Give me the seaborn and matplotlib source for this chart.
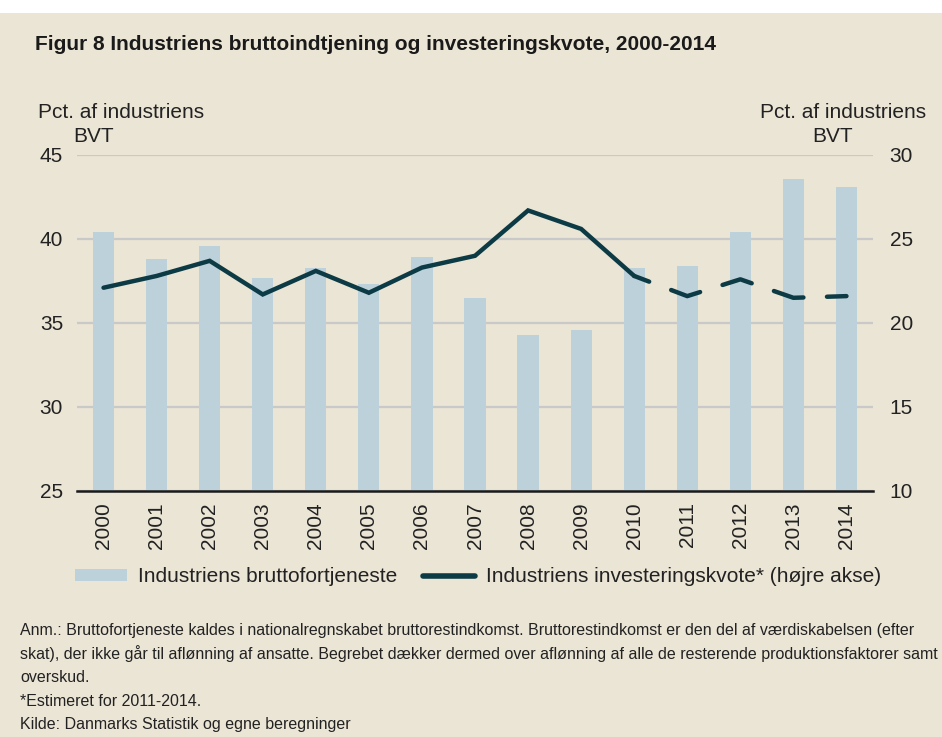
import matplotlib
matplotlib.use('Agg')
import matplotlib.pyplot as plt
from matplotlib.patches import Patch, Rectangle
from matplotlib.lines import Line2D
import numpy as np
import pandas as pd
import seaborn as sns

BG = '#EBE5D5'
BAR = '#BDD1DB'
LINE = '#0D3B45'
TXT = '#222222'

years = [2000, 2001, 2002, 2003, 2004, 2005, 2006, 2007, 2008, 2009, 2010, 2011, 2012, 2013, 2014]
profit = [40.4, 38.8, 39.6, 37.7, 38.3, 37.3, 38.9, 36.5, 34.3, 34.6, 38.3, 38.4, 40.4, 43.6, 43.1]
invest = [22.1, 22.8, 23.7, 21.7, 23.1, 21.8, 23.3, 24.0, 26.7, 25.6, 22.8, 21.6, 22.6, 21.5, 21.6]
estimate_from = 2010  # line is dashed from here on

title = 'Figur 8 Industriens bruttoindtjening og investeringskvote, 2000-2014'
notes = [
    'Anm.: Bruttofortjeneste kaldes i nationalregnskabet bruttorestindkomst. Bruttorestindkomst er den del af værdiskabelsen (efter',
    'skat), der ikke går til aflønning af ansatte. Begrebet dækker dermed over aflønning af alle de resterende produktionsfaktorer samt',
    'overskud.',
    '*Estimeret for 2011-2014.',
    'Kilde: Danmarks Statistik og egne beregninger',
]

sns.set_theme(style='white')
plt.rcParams['font.family'] = ['Liberation Sans', 'DejaVu Sans']
FS = 15

df = pd.DataFrame({'year': [str(y) for y in years], 'profit': profit, 'invest': invest})
df['pos'] = np.arange(len(df))

W, H = 942, 737
fig = plt.figure(figsize=(W / 100, H / 100), dpi=100, facecolor=BG)
fig.add_artist(Rectangle((0, 1 - 13 / H), 1, 13 / H, transform=fig.transFigure,
                         facecolor='white', edgecolor='none', zorder=0))

ax = fig.add_axes([77 / W, 1 - 491 / H, (873 - 77) / W, (491 - 155) / H])
ax.set_facecolor(BG)
sns.barplot(data=df, x='year', y='profit', color=BAR, saturation=1, width=0.4,
            linewidth=0, ax=ax)
ax.set_ylim(25, 45)
ax.set_yticks(range(25, 46, 5))
ax.grid(axis='y', color='#C9C9C9', lw=1.6)
ax.set_axisbelow(True)
ax.set_xlabel('')
ax.set_ylabel('')
for s in ['top', 'left', 'right']:
    ax.spines[s].set_visible(False)
ax.spines['bottom'].set_color('#1a1a1a')
ax.spines['bottom'].set_linewidth(1.8)
ax.tick_params(axis='y', length=0, pad=10, labelsize=FS, colors=TXT)
ax.tick_params(axis='x', length=0, pad=8, labelsize=FS, labelrotation=90, colors=TXT)

ax2 = ax.twinx()
solid = df[df['pos'] <= years.index(estimate_from)]
dashed = df[df['pos'] >= years.index(estimate_from)]
sns.lineplot(data=solid, x='pos', y='invest', color=LINE, lw=3.2, ax=ax2,
             solid_capstyle='round', solid_joinstyle='miter')
sns.lineplot(data=dashed, x='pos', y='invest', color=LINE, lw=3.2, ax=ax2,
             dashes=False, linestyle=(3.3, (6.9, 5.3)), dash_capstyle='round')
ax2.set_ylim(10, 30)
ax2.set_yticks(range(10, 31, 5))
ax2.set_xlabel('')
ax2.set_ylabel('')
for s in ax2.spines.values():
    s.set_visible(False)
ax2.tick_params(axis='y', length=0, pad=12, labelsize=FS, colors=TXT)
ax.set_xlim(-0.5, len(years) - 0.5)

fig.text(35 / W, 1 - 45 / H, title, fontsize=15, fontweight='bold', va='center', color='#1a1a1a')
fig.text(38 / W, 1 - 112 / H, 'Pct. af industriens', fontsize=FS, va='center', color=TXT)
fig.text(73 / W, 1 - 136 / H, 'BVT', fontsize=FS, va='center', color=TXT)
fig.text(926 / W, 1 - 112 / H, 'Pct. af industriens', fontsize=FS, va='center', ha='right', color=TXT)
fig.text(853 / W, 1 - 136 / H, 'BVT', fontsize=FS, va='center', ha='right', color=TXT)

handles = [Patch(facecolor=BAR, edgecolor='none'),
           Line2D([0], [0], color=LINE, lw=4, solid_capstyle='round')]
labels = ['Industriens bruttofortjeneste', 'Industriens investeringskvote* (højre akse)']
fig.legend(handles, labels, loc='center', bbox_to_anchor=(478 / W, 1 - 577 / H), ncol=2,
           frameon=False, fontsize=FS, handlelength=2.5, handleheight=0.5,
           handletextpad=0.55, columnspacing=1.2, labelcolor=TXT)

for i, line in enumerate(notes):
    y = [630, 654, 678, 701, 724][i]
    fig.text(20 / W, 1 - y / H, line, fontsize=11.5, va='center', color=TXT)

fig.savefig('out.png', dpi=100, facecolor=BG)
